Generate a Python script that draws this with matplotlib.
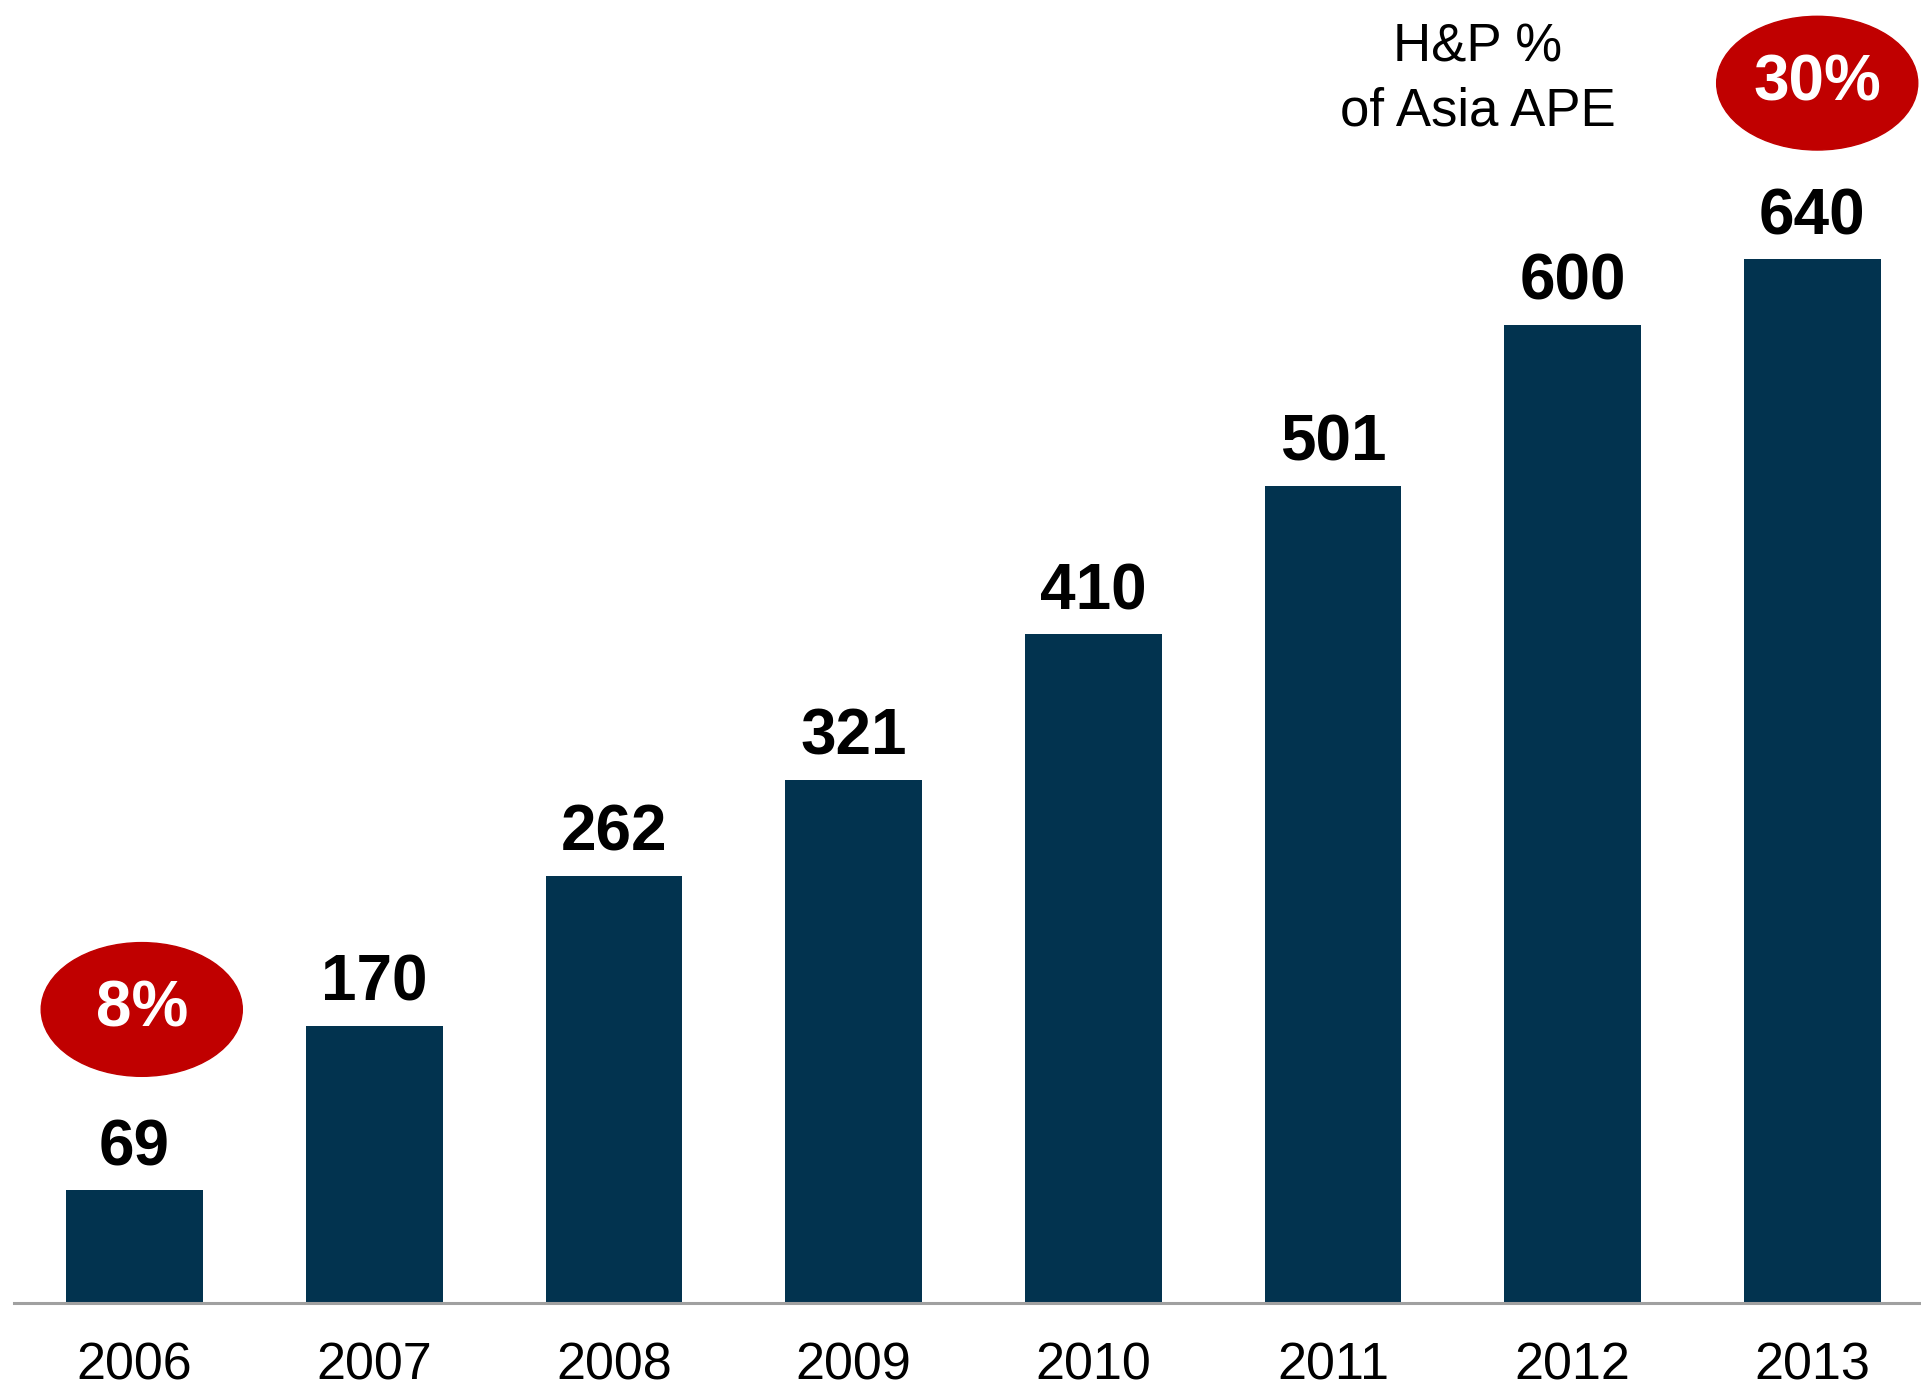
import matplotlib.pyplot as plt
from matplotlib.patches import Ellipse

# H&P APE by year
years = ['2006', '2007', '2008', '2009', '2010', '2011', '2012', '2013']
ape = [69, 170, 262, 321, 410, 501, 600, 640]

# share of Asia APE, shown in the red bubbles
share_labels = ['8%', '30%']
share_years = ['2006', '2013']

plt.rcParams['font.family'] = ['Liberation Sans', 'DejaVu Sans']

fig = plt.figure(figsize=(19.21, 13.96), dpi=100)
ax = fig.add_axes([14 / 1921, 93 / 1396, 1 - 14 / 1921, 1303 / 1396])

x = list(range(len(years)))
bars = ax.bar(x, ape, width=0.57, color='#02334F', zorder=2)

# value labels above the bars
for xi, v in zip(x, ape):
    ax.annotate(str(v), (xi, v), xytext=(0, 18), textcoords='offset points',
                ha='center', va='baseline', fontsize=46, fontweight='bold',
                color='black')

ax.set_xlim(-0.503, 7.453)
ax.set_ylim(0, 799)

ax.set_xticks(x)
ax.set_xticklabels(years, fontsize=37.5)
ax.tick_params(axis='x', length=0, pad=28)
ax.set_yticks([])

for s in ['top', 'right', 'left']:
    ax.spines[s].set_visible(False)
ax.spines['bottom'].set_color('#A0A0A0')
ax.spines['bottom'].set_linewidth(2.2)

# red bubbles with the share of Asia APE
bubble_pos = {'2006': (0.03, 180), '2013': (7.02, 748)}
for lab, yr in zip(share_labels, share_years):
    cx, cy = bubble_pos[yr]
    ax.add_patch(Ellipse((cx, cy), width=0.839, height=82, color='#C00000',
                         zorder=3, clip_on=False))
    ax.text(cx, cy, lab, ha='center', va='center', fontsize=46,
            fontweight='bold', color='white', zorder=4)

fig.text(1478 / 1921, 1 - 61 / 1396, 'H&P %', ha='center', va='baseline',
         fontsize=38)
fig.text(1478 / 1921, 1 - 125 / 1396, 'of Asia APE', ha='center',
         va='baseline', fontsize=38)

fig.savefig('out.png', dpi=100)
